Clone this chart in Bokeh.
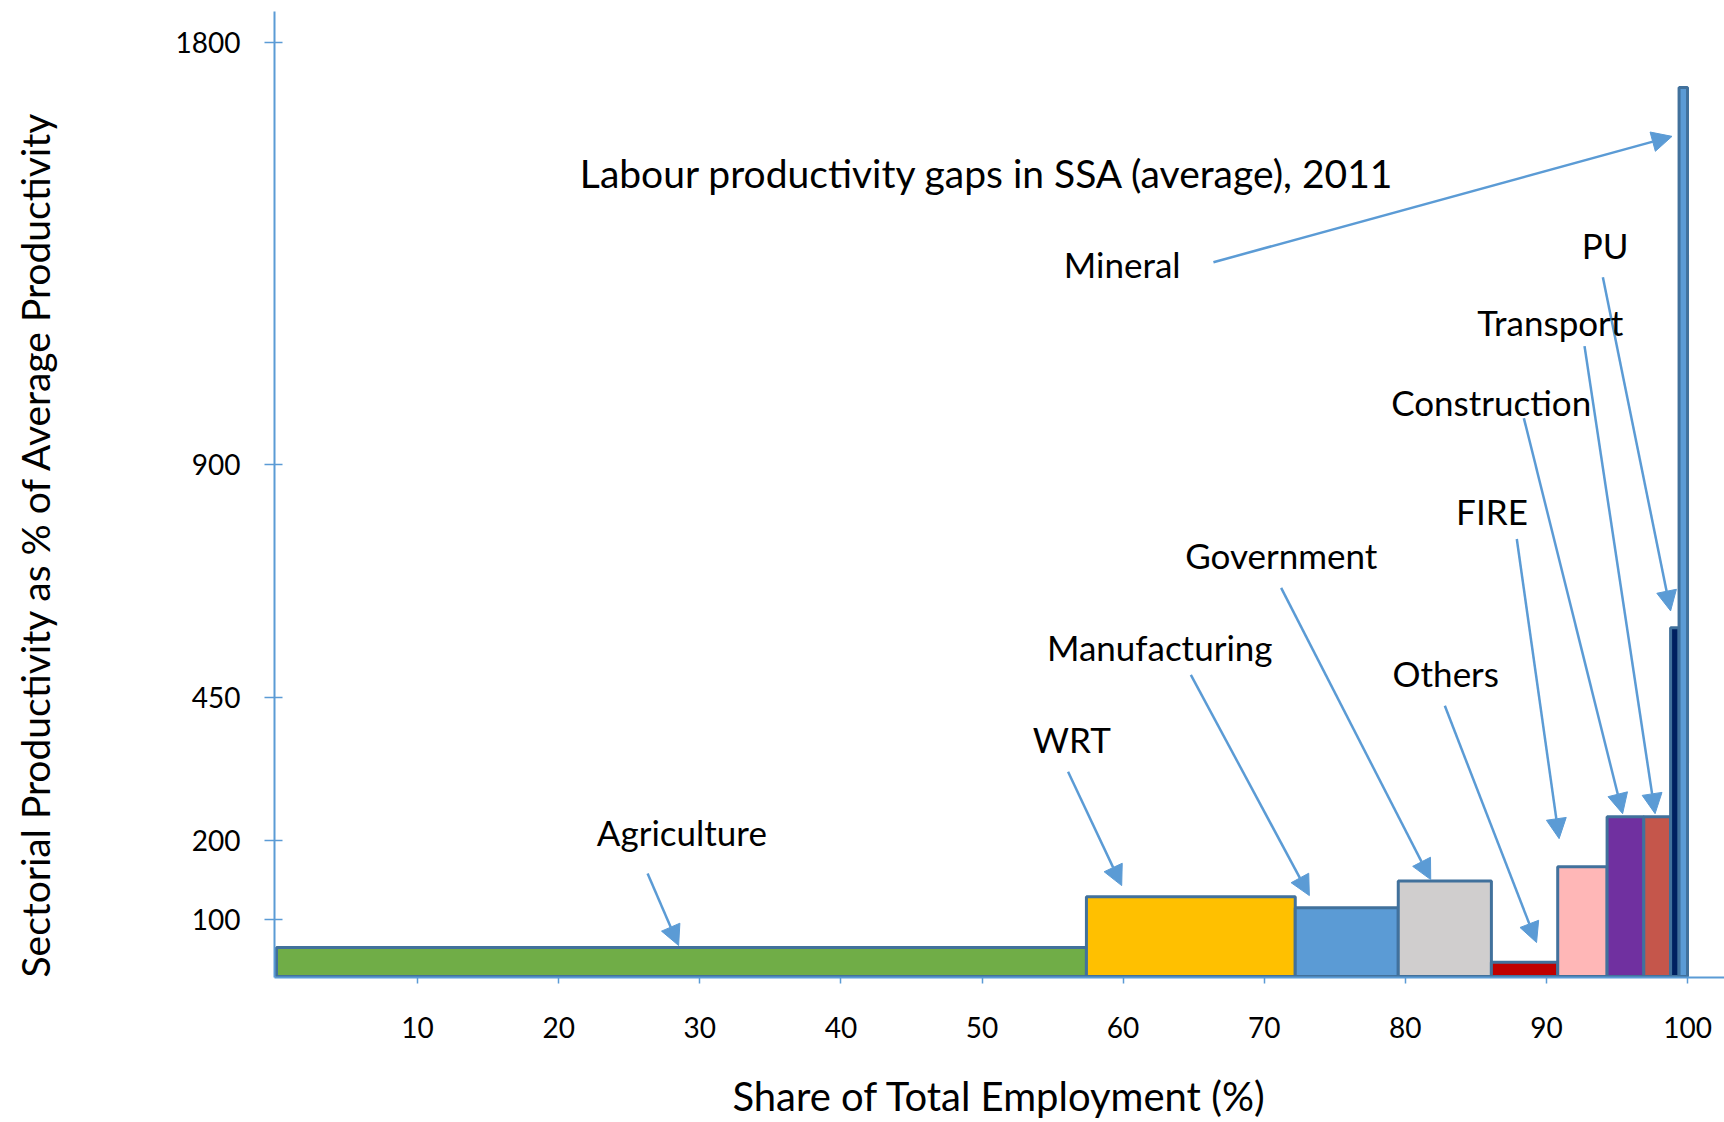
import numpy as np
from bokeh.plotting import figure
from bokeh.models import Range1d, Label, Arrow, NormalHead, FixedTicker, ColumnDataSource, Title
from bokeh.embed import file_html
from bokeh.resources import INLINE

# ---------------- data ----------------
sectors = ["Agriculture", "WRT", "Manufacturing", "Government", "Others",
           "FIRE", "Construction", "Transport", "PU", "Mineral"]
employment_share = [57.4, 14.8, 7.3, 6.6, 4.7, 3.5, 2.6, 1.9, 0.6, 0.6]
productivity = [51, 129, 115, 149, 25, 167, 242, 242, 585, 1704]
bar_colors = ["#70AD47", "#FFC000", "#5B9BD5", "#D0CECE", "#C00000",
              "#FFB7B7", "#7030A0", "#C5564B", "#002060", "#5B9BD5"]
y_tick_values = [100, 200, 450, 900, 1800]
y_tick_labels = ["100", "200", "450", "900", "1800"]
x_tick_values = [10, 20, 30, 40, 50, 60, 70, 80, 90, 100]

title_text = "Labour productivity gaps in SSA (average), 2011"
x_title = "Share of Total Employment (%)"
y_title = "Sectorial Productivity as % of Average Productivity"

# non-linear y axis of the original: tick values and where they sit (axis units)
y_anchor_values = [0, 100, 200, 450, 900, 1800]
y_anchor_pos = [0, 57, 136, 279, 513, 935]


def ymap(v):
    return np.interp(v, y_anchor_values, y_anchor_pos)


right = np.cumsum(employment_share)
left = right - np.array(employment_share)
src = ColumnDataSource(dict(
    left=left, right=right, bottom=np.zeros(len(sectors)),
    top=ymap(productivity), color=bar_colors, sector=sectors))

FONT = "Lato"
AX = "#5B9BD5"

p = figure(width=1724, height=1122, output_backend="svg", toolbar_location=None,
           x_range=Range1d(-0.14, 102.62), y_range=Range1d(-1, 966),
           min_border_left=274, min_border_right=0, min_border_top=11,
           min_border_bottom=144)
p.outline_line_color = None
p.xgrid.visible = False
p.ygrid.visible = False
p.background_fill_color = "white"
p.border_fill_color = "white"

p.quad(left="left", right="right", bottom="bottom", top="top", source=src,
       fill_color="color", line_color="#41719C", line_width=3)

# axes
p.yaxis.ticker = FixedTicker(ticks=list(ymap(y_tick_values)))
p.yaxis.major_label_overrides = {float(ymap(v)): lab for v, lab in zip(y_tick_values, y_tick_labels)}
p.xaxis.ticker = FixedTicker(ticks=x_tick_values)
for ax in (p.xaxis[0], p.yaxis[0]):
    ax.axis_line_color = AX
    ax.axis_line_width = 2
    ax.major_tick_line_color = AX
    ax.major_tick_line_width = 1.5
    ax.minor_tick_line_color = None
    ax.major_label_text_font = FONT
    ax.major_label_text_font_size = "28px"
    ax.major_label_text_color = "black"
    ax.axis_label_text_font = FONT
    ax.axis_label_text_font_style = "normal"
    ax.axis_label_text_color = "black"
p.yaxis.major_tick_out = 10
p.yaxis.major_tick_in = 8
p.yaxis.major_label_standoff = 24
p.xaxis.major_tick_out = 6
p.xaxis.major_tick_in = 0
p.xaxis.major_label_standoff = 33

p.xaxis.axis_label = x_title
p.xaxis.axis_label_text_font_size = "40px"
p.xaxis.axis_label_standoff = 31

# spacer between the tick labels and the y title (pushes the title outward)
p.add_layout(Title(text=" ", standoff=112, text_font=FONT,
                   text_font_size="1px", text_color="white"), "left")
p.add_layout(Title(text=y_title, align="left", offset=0, standoff=0,
                   text_font=FONT, text_font_size="39px",
                   text_font_style="normal", text_color="black"), "left")

p.add_layout(Label(x=21.5, y=804, text=title_text, text_align="left",
                   text_baseline="middle", text_font=FONT,
                   text_font_size="39px", text_color="black"))

# annotations: label (left x, middle y), arrow start, arrow end  (axis units)
annotations = [
    ("Mineral", 55.8, 713, 66.4, 715, 98.9, 841),
    ("PU", 92.5, 732, 94.0, 700, 98.8, 366),
    ("Transport", 85.1, 655, 92.7, 631, 97.7, 163),
    ("Construction", 79.0, 575, 88.4, 559, 95.4, 163),
    ("FIRE", 83.6, 466, 87.9, 438, 90.9, 138),
    ("Government", 64.4, 422, 71.2, 389, 81.8, 97),
    ("Others", 79.1, 304, 82.8, 271, 89.3, 34),
    ("Manufacturing", 54.6, 330, 64.8, 302, 73.2, 81),
    ("WRT", 53.6, 238, 56.1, 205, 59.9, 91),
    ("Agriculture", 22.7, 145, 26.3, 103, 28.5, 31),
]
for name, lx, ly, x0, y0, x1, y1 in annotations:
    p.add_layout(Label(x=lx, y=ly, text=name, text_align="left",
                       text_baseline="middle", text_font=FONT,
                       text_font_size="35px", text_color="black"))
    p.add_layout(Arrow(x_start=x0, y_start=y0, x_end=x1, y_end=y1,
                       line_color=AX, line_width=2.5,
                       end=NormalHead(size=20, fill_color=AX, line_color=AX)))

open("out.html", "w").write(file_html(p, INLINE))
